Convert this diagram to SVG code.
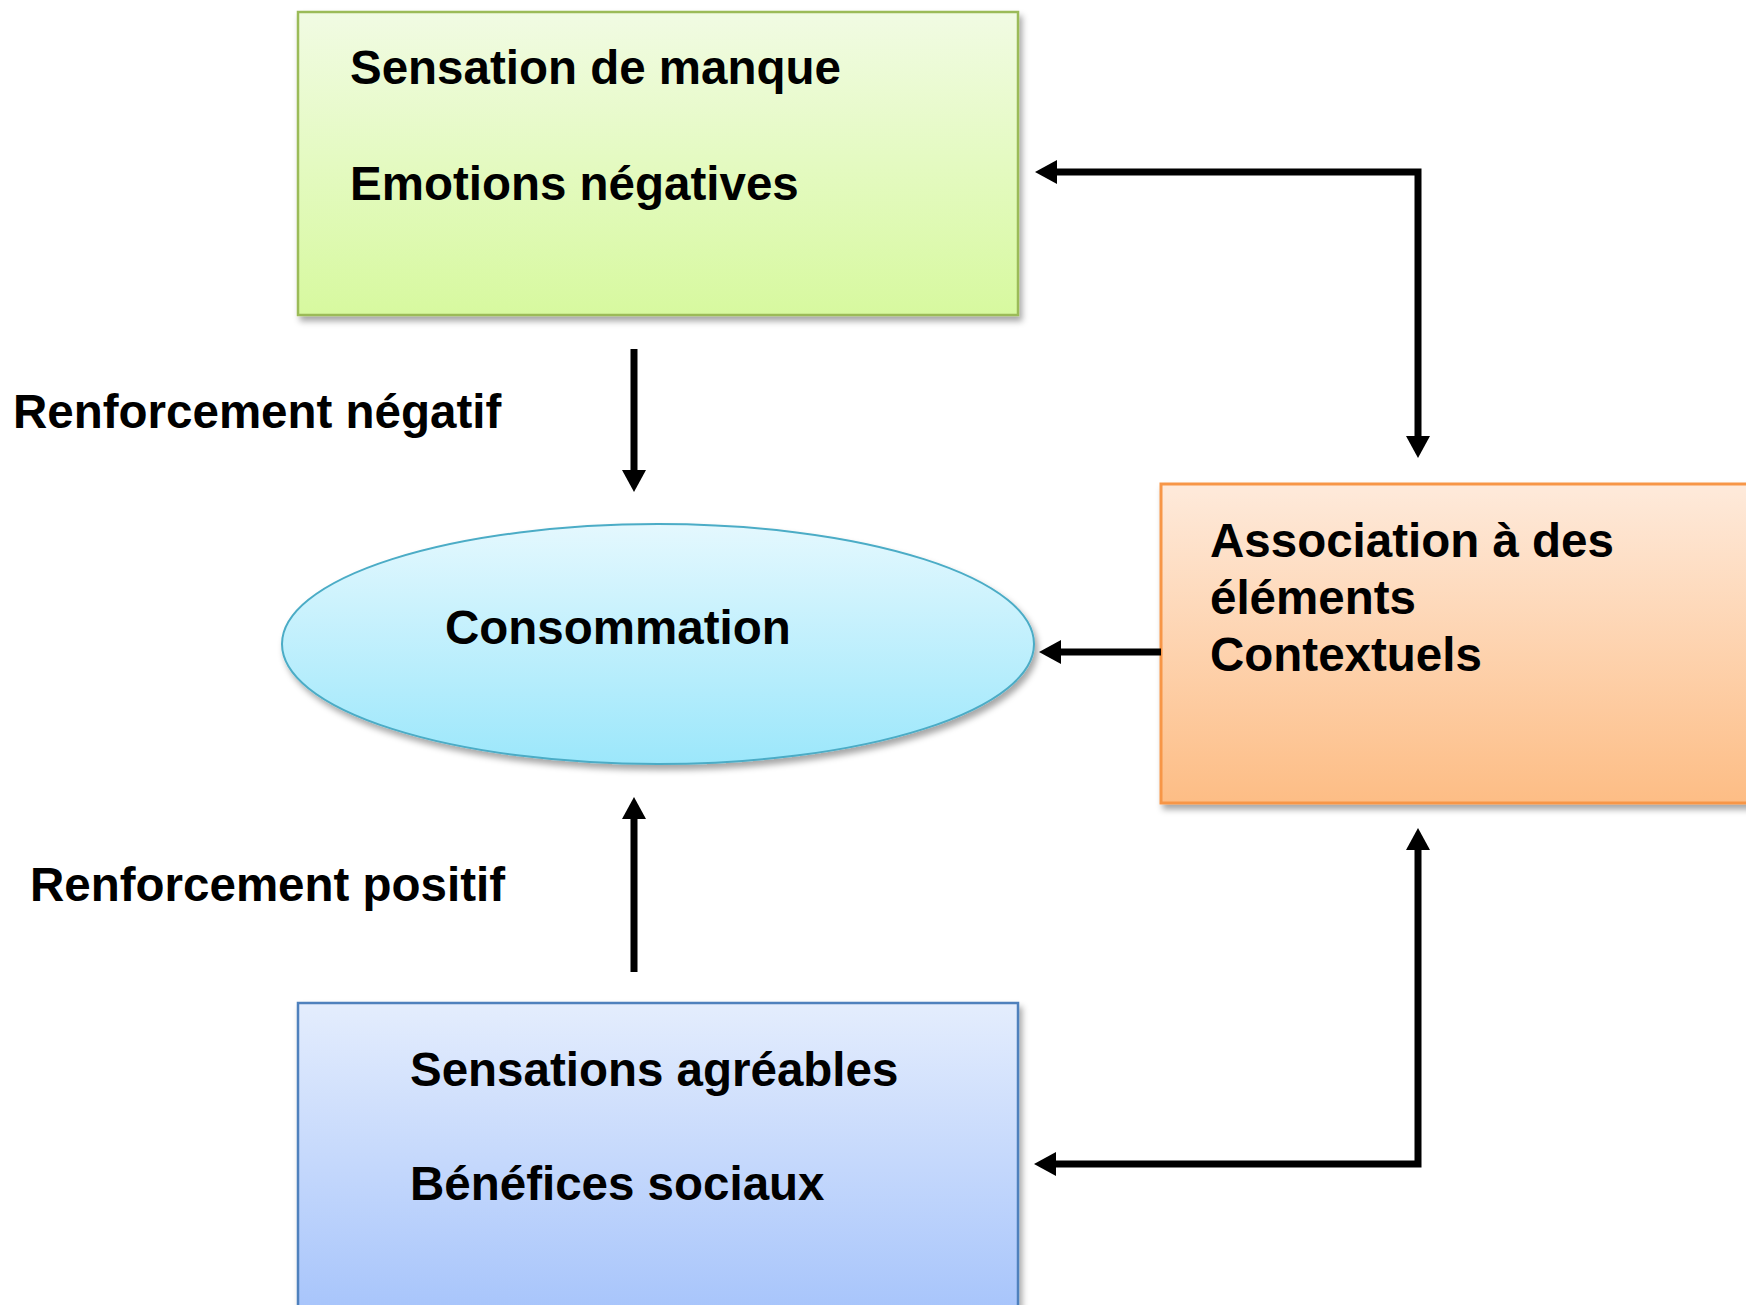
<svg xmlns="http://www.w3.org/2000/svg" width="1746" height="1305" viewBox="0 0 1746 1305">
  <defs>
    <linearGradient id="gGreen" x1="0" y1="0" x2="0" y2="1">
      <stop offset="0" stop-color="#f1fbe3"/>
      <stop offset="1" stop-color="#d7f99f"/>
    </linearGradient>
    <linearGradient id="gCyan" x1="0" y1="0" x2="0" y2="1">
      <stop offset="0" stop-color="#e4f8fe"/>
      <stop offset="1" stop-color="#9ce7fb"/>
    </linearGradient>
    <linearGradient id="gOrange" x1="0" y1="0" x2="0" y2="1">
      <stop offset="0" stop-color="#feeadb"/>
      <stop offset="1" stop-color="#fdbd85"/>
    </linearGradient>
    <linearGradient id="gBlue" x1="0" y1="0" x2="0" y2="1">
      <stop offset="0" stop-color="#e4edfd"/>
      <stop offset="1" stop-color="#a5c3fb"/>
    </linearGradient>
    <filter id="shadow" x="-5%" y="-5%" width="115%" height="120%">
      <feDropShadow dx="3" dy="5" stdDeviation="3" flood-color="#000" flood-opacity="0.35"/>
    </filter>
    <marker id="arrow" markerUnits="userSpaceOnUse" markerWidth="22" markerHeight="24" refX="0" refY="12" orient="auto-start-reverse" viewBox="0 0 22 24">
      <path d="M0,0 L22,12 L0,24 Z" fill="#000"/>
    </marker>
  </defs>
  <style>
    text { font-family: "Liberation Sans", Arial, sans-serif; font-weight: bold; font-size: 47.5px; fill: #000; }
    .conn { fill: none; stroke: #000; stroke-width: 7; stroke-linejoin: miter; }
  </style>

  <g id="node-manque">
    <rect x="298" y="12" width="720" height="303" fill="url(#gGreen)" stroke="#9bbb59" stroke-width="2.5" filter="url(#shadow)"/>
    <text x="350" y="84">Sensation de manque</text>
    <text x="350" y="200">Emotions négatives</text>
  </g>

  <g id="node-consommation">
    <ellipse cx="658" cy="644" rx="376" ry="120" fill="url(#gCyan)" stroke="#4bacc6" stroke-width="2" filter="url(#shadow)"/>
    <text x="445" y="644">Consommation</text>
  </g>

  <g id="node-association">
    <rect x="1161" y="484" width="600" height="319" fill="url(#gOrange)" stroke="#f79646" stroke-width="3" filter="url(#shadow)"/>
    <text x="1210" y="557">Association à des</text>
    <text x="1210" y="614">éléments</text>
    <text x="1210" y="671">Contextuels</text>
  </g>

  <g id="node-sensations">
    <rect x="298" y="1003" width="720" height="320" fill="url(#gBlue)" stroke="#4f81bd" stroke-width="2.5" filter="url(#shadow)"/>
    <text x="410" y="1086">Sensations agréables</text>
    <text x="410" y="1200">Bénéfices sociaux</text>
  </g>

  <g id="label-negatif">
    <text x="13" y="428">Renforcement négatif</text>
  </g>
  <g id="label-positif">
    <text x="30" y="901">Renforcement positif</text>
  </g>

  <g id="connectors">
    <path class="conn" d="M634,349 V470" marker-end="url(#arrow)"/>
    <path class="conn" d="M634,972 V819" marker-end="url(#arrow)"/>
    <path class="conn" d="M1161,652 H1061" marker-end="url(#arrow)"/>
    <path class="conn" d="M1057,172 H1418 V436" marker-start="url(#arrow)" marker-end="url(#arrow)"/>
    <path class="conn" d="M1056,1164 H1418 V850" marker-start="url(#arrow)" marker-end="url(#arrow)"/>
  </g>
</svg>
